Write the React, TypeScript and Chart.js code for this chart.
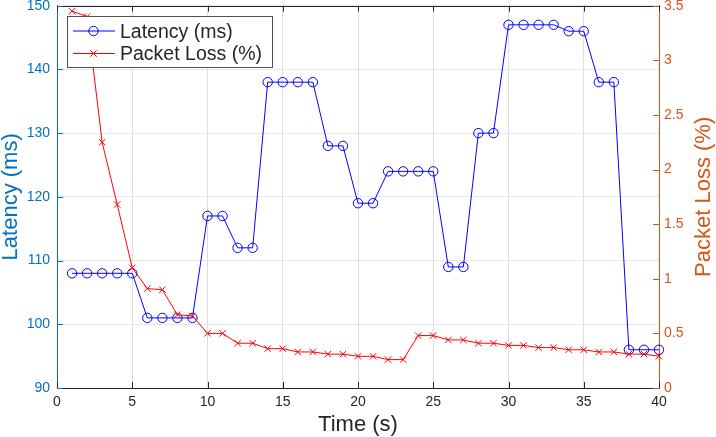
import React, { useEffect, useRef } from 'react';
import { Chart, registerables } from 'chart.js';

Chart.register(...registerables);

const timeSec = [1, 2, 3, 4, 5, 6, 7, 8, 9, 10, 11, 12, 13, 14, 15, 16, 17, 18, 19, 20, 21, 22, 23, 24, 25, 26, 27, 28, 29, 30, 31, 32, 33, 34, 35, 36, 37, 38, 39, 40];
const latencyMs = [108, 108, 108, 108, 108, 101, 101, 101, 101, 117, 117, 112, 112, 138, 138, 138, 138, 128, 128, 119, 119, 124, 124, 124, 124, 109, 109, 130, 130, 147, 147, 147, 147, 146, 146, 138, 138, 96, 96, 96];
const packetLossPct = [3.45, 3.40, 2.25, 1.68, 1.10, 0.91, 0.90, 0.67, 0.66, 0.50, 0.50, 0.41, 0.41, 0.36, 0.36, 0.33, 0.33, 0.31, 0.31, 0.29, 0.29, 0.26, 0.26, 0.48, 0.48, 0.44, 0.44, 0.41, 0.41, 0.39, 0.39, 0.37, 0.37, 0.35, 0.35, 0.33, 0.33, 0.31, 0.31, 0.29];

const xTickValues = [0, 5, 10, 15, 20, 25, 30, 35, 40];
const latencyTickValues = [90, 100, 110, 120, 130, 140, 150];
const lossTickValues = [0, 0.5, 1, 1.5, 2, 2.5, 3, 3.5];

const seriesNames = ['Latency (ms)', 'Packet Loss (%)'];
const xTitle = 'Time (s)';
const leftTitle = 'Latency (ms)';
const rightTitle = 'Packet Loss (%)';

const FONT = '"Liberation Sans", Arial, Helvetica, sans-serif';
const DARK = 'rgb(38,38,38)';
const AX_BLUE = 'rgb(0,114,189)';
const AX_ORANGE = 'rgb(217,83,25)';
const LINE_BLUE = 'rgb(0,0,255)';
const LINE_RED = 'rgb(255,0,0)';

const setTicks = (vals: number[]) => (scale: any) => {
  scale.ticks = vals.map((v) => ({ value: v }));
};

const decorPlugin = {
  id: 'decor',
  afterDraw(chart: any) {
    const { ctx, chartArea: a, scales } = chart;
    const tl = 6;
    ctx.save();
    ctx.lineWidth = 1;
    // top border
    ctx.strokeStyle = DARK;
    ctx.beginPath();
    ctx.moveTo(a.left, Math.round(a.top) + 0.5);
    ctx.lineTo(a.right, Math.round(a.top) + 0.5);
    ctx.stroke();
    // x ticks bottom & top (inward)
    const xs = scales.x;
    xs.ticks.forEach((t: any) => {
      const px = Math.round(xs.getPixelForValue(t.value)) + 0.5;
      ctx.beginPath();
      ctx.moveTo(px, a.bottom);
      ctx.lineTo(px, a.bottom - tl);
      ctx.moveTo(px, a.top);
      ctx.lineTo(px, a.top + tl);
      ctx.stroke();
    });
    // left ticks
    const ys = scales.y;
    ctx.strokeStyle = AX_BLUE;
    ys.ticks.forEach((t: any) => {
      const py = Math.round(ys.getPixelForValue(t.value)) + 0.5;
      ctx.beginPath();
      ctx.moveTo(a.left, py);
      ctx.lineTo(a.left + tl, py);
      ctx.stroke();
    });
    // right ticks
    const y1 = scales.y1;
    ctx.strokeStyle = AX_ORANGE;
    y1.ticks.forEach((t: any) => {
      const py = Math.round(y1.getPixelForValue(t.value)) + 0.5;
      ctx.beginPath();
      ctx.moveTo(a.right, py);
      ctx.lineTo(a.right - tl, py);
      ctx.stroke();
    });

    // axis titles
    ctx.font = `22px ${FONT}`;
    ctx.textAlign = 'center';
    ctx.textBaseline = 'alphabetic';
    ctx.fillStyle = DARK;
    ctx.fillText(xTitle, (a.left + a.right) / 2, 431);
    const cy = (a.top + a.bottom) / 2;
    ctx.save();
    ctx.translate(17, cy);
    ctx.rotate(-Math.PI / 2);
    ctx.fillStyle = AX_BLUE;
    ctx.fillText(leftTitle, 0, 0);
    ctx.restore();
    ctx.save();
    ctx.translate(710, cy);
    ctx.rotate(-Math.PI / 2);
    ctx.fillStyle = AX_ORANGE;
    ctx.fillText(rightTitle, 0, 0);
    ctx.restore();

    // legend
    const bx = 67.5, by = 16.5, bw = 205, bh = 51;
    ctx.fillStyle = '#ffffff';
    ctx.fillRect(bx, by, bw, bh);
    ctx.strokeStyle = 'rgb(80,80,80)';
    ctx.lineWidth = 1;
    ctx.strokeRect(bx, by, bw, bh);
    const rows = [
      { y: 31, color: LINE_BLUE, marker: 'circle', text: seriesNames[0], base: 37.7 },
      { y: 53.5, color: LINE_RED, marker: 'cross', text: seriesNames[1], base: 60.3 },
    ];
    rows.forEach((r) => {
      ctx.strokeStyle = r.color;
      ctx.lineWidth = 1;
      ctx.beginPath();
      ctx.moveTo(73, r.y);
      ctx.lineTo(115, r.y);
      ctx.stroke();
      const mx = 93.5;
      ctx.beginPath();
      if (r.marker === 'circle') {
        ctx.arc(mx, r.y, 4.7, 0, Math.PI * 2);
      } else {
        const s = 3.2;
        ctx.moveTo(mx - s, r.y - s);
        ctx.lineTo(mx + s, r.y + s);
        ctx.moveTo(mx - s, r.y + s);
        ctx.lineTo(mx + s, r.y - s);
      }
      ctx.stroke();
      ctx.fillStyle = DARK;
      ctx.font = `19.5px ${FONT}`;
      ctx.textAlign = 'left';
      ctx.textBaseline = 'alphabetic';
      ctx.fillText(r.text, 120, r.base);
    });
    ctx.restore();
  },
};

export default function App() {
  const ref = useRef<HTMLCanvasElement | null>(null);
  useEffect(() => {
    document.body.style.margin = '0';
    const canvas = ref.current;
    if (!canvas) return;
    const chart = new Chart(canvas, {
      type: 'line',
      data: {
        datasets: [
          {
            label: seriesNames[0],
            data: timeSec.map((t, i) => ({ x: t, y: latencyMs[i] })),
            yAxisID: 'y',
            borderColor: LINE_BLUE,
            backgroundColor: 'rgba(0,0,0,0)',
            borderWidth: 1,
            pointStyle: 'circle',
            pointRadius: 4.7,
            pointBorderWidth: 1,
            pointBorderColor: LINE_BLUE,
            pointBackgroundColor: 'rgba(0,0,0,0)',
            tension: 0,
            clip: false,
            order: 2,
          } as any,
          {
            label: seriesNames[1],
            data: timeSec.map((t, i) => ({ x: t, y: packetLossPct[i] })),
            yAxisID: 'y1',
            borderColor: LINE_RED,
            backgroundColor: 'rgba(0,0,0,0)',
            borderWidth: 1,
            pointStyle: 'crossRot',
            pointRadius: 4.5,
            pointBorderWidth: 1,
            pointBorderColor: LINE_RED,
            tension: 0,
            clip: false,
            order: 1,
          } as any,
        ],
      },
      options: {
        animation: false,
        responsive: false,
        devicePixelRatio: 1,
        layout: { padding: { top: 5, left: 0, right: 0, bottom: 0 } },
        plugins: { legend: { display: false }, tooltip: { enabled: false } },
        scales: {
          x: {
            type: 'linear',
            min: 0,
            max: 40,
            afterBuildTicks: setTicks(xTickValues),
            afterFit: (s: any) => {
              s.height = 49;
              s.paddingLeft = 0;
              s.paddingRight = 0;
            },
            ticks: {
              color: DARK,
              font: { family: FONT, size: 14 },
              padding: 6,
              maxRotation: 0,
              autoSkip: false,
              callback: (v: any) => String(v),
            },
            grid: { color: 'rgb(222,222,222)', drawTicks: false, lineWidth: 1 },
            border: { color: DARK, width: 1 },
          },
          y: {
            type: 'linear',
            position: 'left',
            min: 90,
            max: 150,
            afterBuildTicks: setTicks(latencyTickValues),
            afterFit: (s: any) => {
              s.width = 57;
              s.paddingTop = 0;
              s.paddingBottom = 0;
            },
            ticks: {
              color: AX_BLUE,
              font: { family: FONT, size: 14 },
              padding: 7,
              autoSkip: false,
              callback: (v: any) => String(v),
            },
            grid: { color: 'rgb(222,235,245)', drawTicks: false, lineWidth: 1 },
            border: { color: AX_BLUE, width: 1 },
          },
          y1: {
            type: 'linear',
            position: 'right',
            min: 0,
            max: 3.5,
            afterBuildTicks: setTicks(lossTickValues),
            afterFit: (s: any) => {
              s.width = 57;
              s.paddingTop = 0;
              s.paddingBottom = 0;
            },
            ticks: {
              color: AX_ORANGE,
              font: { family: FONT, size: 14 },
              padding: 5,
              autoSkip: false,
              callback: (v: any) => String(v),
            },
            grid: { drawOnChartArea: false, drawTicks: false },
            border: { color: AX_ORANGE, width: 1 },
          },
        },
      },
      plugins: [decorPlugin],
    } as any);
    return () => chart.destroy();
  }, []);
  return (
    <div style={{ position: 'absolute', left: 0, top: 0, width: 716, height: 437, background: '#fff' }}>
      <canvas ref={ref} width={716} height={437} style={{ display: 'block', width: 716, height: 437 }} />
    </div>
  );
}
